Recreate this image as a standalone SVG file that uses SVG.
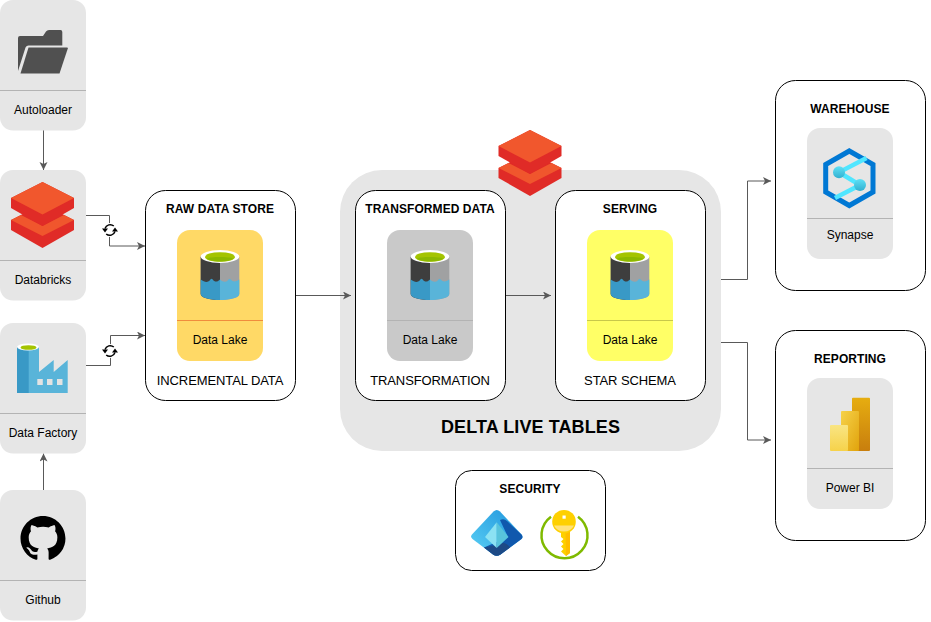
<svg xmlns="http://www.w3.org/2000/svg" xmlns:xlink="http://www.w3.org/1999/xlink" width="931" height="622" viewBox="0 0 931 622">
<style>
text{font-family:"Liberation Sans",Arial,sans-serif;fill:#000;text-anchor:middle}
.lbl{font-size:12px}
.ttl{font-size:12px;font-weight:bold;letter-spacing:.08px}
.sub{font-size:13px;letter-spacing:-.1px}
.box{fill:#fff;stroke:#000;stroke-width:1}
.card{fill:#e6e6e6}
.div{stroke:#b3b3b3;stroke-width:1;fill:none}
.c{fill:none;stroke:#595959;stroke-width:1;marker-end:url(#a)}
</style>
<defs>
<marker id="a" markerUnits="userSpaceOnUse" markerWidth="10" markerHeight="10" refX="8" refY="4" orient="auto"><path d="M0 0L8 4L0 8L2 4Z" fill="#595959"/></marker>
<linearGradient id="b1" x1="0" y1="0" x2="0" y2="1"><stop offset="0" stop-color="#e6ad10"/><stop offset="1" stop-color="#c87e0e"/></linearGradient>
<linearGradient id="b2" x1="0" y1="0" x2="1" y2="1"><stop offset="0" stop-color="#f6d24a"/><stop offset="1" stop-color="#e1a30c"/></linearGradient>
<linearGradient id="b3" x1="0" y1="0" x2="0" y2="1"><stop offset="0" stop-color="#f9e583"/><stop offset="1" stop-color="#f6d24a"/></linearGradient>
<linearGradient id="sc" x1="0" y1="0" x2="0" y2="1"><stop offset="0" stop-color="#5fe0f5"/><stop offset="1" stop-color="#32b0d0"/></linearGradient>
<linearGradient id="en" x1="0" y1="1" x2="1" y2="0"><stop offset="0" stop-color="#5ad0f5"/><stop offset="1" stop-color="#1f94dc"/></linearGradient>
<g id="dbx">
<path d="M0 38L31.500 22L63 38V48L31.500 66L0 48Z" fill="#e02b27"/>
<path d="M10 33L31.500 44L53 33L63 38L31.500 54L0 38Z" fill="#f0562d"/>
<path d="M0 16L31.500 0L63 16V26L31.500 44L0 26Z" fill="#e02b27"/>
<path d="M0 16L31.500 0L63 16L31.500 32.500Z" fill="#f1572d"/>
</g>
<g id="lake">
<path d="M0 6.500V44C0 47.500 8.500 50 19.300 50S38.600 47.500 38.600 44V6.500Z" fill="#a0a1a2"/>
<path d="M0 6.500V44C0 47.500 8.500 50 19.300 50V6.500Z" fill="#3e3e3e"/>
<path d="M0 29.500C4 32.500 7 32.500 9 30.500C10 29 11 28 12 29.500C14 32.500 17 32 19.300 29.500V50C8.500 50 0 47.500 0 44Z" fill="#3999c6"/>
<path d="M19.300 29.500C22 32 25 32.500 27 30.500C28 29 29 28 30 29.500C32 32 35 32 38.600 29.500V44C38.600 47.500 30 50 19.300 50Z" fill="#59b4d9"/>
<ellipse cx="19.300" cy="6.500" rx="19.300" ry="6.500" fill="#fff"/>
<ellipse cx="19.300" cy="7" rx="15" ry="4.800" fill="#a4c400"/>
<path d="M6 8.500C10 6.500 28 6.500 33 8.500C28 12.500 10 12.500 6 8.500Z" fill="#8cb800"/>
</g>
<g id="sync">
<circle r="7" fill="#fff"/>
<path d="M3.800 -4A5.500 5.500 0 0 0 -5 -1.500M-3.800 4A5.500 5.500 0 0 0 5 1.500" fill="none" stroke="#000" stroke-width="1.500"/>
<path d="M-8 -1.500H-2L-5 2.500ZM8 1.500H2L5 -2.500Z" fill="#000"/>
</g>
</defs>
<rect x="0" y="0" width="931" height="622" fill="#fff"/>
<g id="delta-live-tables">
<rect x="340" y="170" width="381" height="281" rx="42" fill="#e6e6e6"/>
<text x="530.500" y="433" style="font-size:18px;font-weight:bold;letter-spacing:.1px">DELTA LIVE TABLES</text>
</g>
<g id="delta-icon"><use xlink:href="#dbx" href="#dbx" x="498.500" y="130"/></g>
<g id="connectors">
<path class="c" d="M43.500 130V170"/>
<path class="c" d="M43.500 490V453.500"/>
<path class="c" d="M86 215.500H109.500V246H145"/>
<path class="c" d="M86 365.500H110.500V335.500H145"/>
<path class="c" d="M295 295.500H351"/>
<path class="c" d="M505 295.500H551"/>
<path class="c" d="M721 279.500H747.500V181H771"/>
<path class="c" d="M721 342.500H747.500V440H771"/>
</g>
<g id="sync-1"><use xlink:href="#sync" href="#sync" x="110" y="230"/></g>
<g id="sync-2"><use xlink:href="#sync" href="#sync" x="110" y="351"/></g>
<g id="autoloader">
<rect class="card" x="0" y="0" width="86" height="130.500" rx="13"/>
<path class="div" d="M0 90.500H86"/>
<path d="M18 71V38Q18 36 20 36H43L46 31.500Q47 30 49 30H60.500Q62.300 30 62.300 32V45.500H28.500Q26.500 45.500 25.500 47.500Z" fill="#505050"/>
<path d="M28.500 47.500H67Q68 47.500 67.800 48.500L59.500 73.500H20.500Z" fill="#505050"/>
<text class="lbl" x="43" y="114">Autoloader</text>
</g>
<g id="databricks">
<rect class="card" x="0" y="170" width="86" height="130.500" rx="13"/>
<path class="div" d="M0 260.500H86"/>
<use xlink:href="#dbx" href="#dbx" x="11" y="182"/>
<text class="lbl" x="43" y="284">Databricks</text>
</g>
<g id="data-factory">
<rect class="card" x="0" y="323" width="86" height="130.500" rx="13"/>
<path class="div" d="M0 413.500H86"/>
<path d="M17 347H39V393H17Z" fill="#3999c6"/>
<path d="M28.700 347H39V372L53.700 360V372L67.700 360V393H28.700Z" fill="#59b4d9"/>
<ellipse cx="28" cy="347" rx="11" ry="3.500" fill="#fff"/>
<ellipse cx="28.500" cy="347.500" rx="8" ry="2.300" fill="#a4c400"/>
<g fill="#e3e3e3"><rect x="37.300" y="379" width="5.500" height="6"/><rect x="47" y="379" width="5.500" height="6"/><rect x="57" y="379" width="5.500" height="6"/></g>
<text class="lbl" x="43" y="437">Data Factory</text>
</g>
<g id="github">
<rect class="card" x="0" y="490" width="86" height="130.500" rx="13"/>
<path class="div" d="M0 580.500H86"/>
<path transform="translate(20.500 516) scale(2.810)" d="M8 0C3.580 0 0 3.580 0 8c0 3.540 2.290 6.530 5.470 7.590.4.070.55-.17.55-.38 0-.19-.01-.82-.01-1.490-2.010.37-2.530-.49-2.690-.94-.09-.23-.48-.94-.82-1.130-.28-.15-.68-.52-.01-.53.63-.01 1.080.58 1.230.82.720 1.210 1.870.87 2.330.66.070-.52.28-.87.51-1.070-1.780-.2-3.640-.89-3.640-3.950 0-.87.31-1.590.82-2.150-.08-.2-.36-1.020.08-2.120 0 0 .67-.21 2.200.82.64-.18 1.320-.27 2-.27.68 0 1.360.09 2 .27 1.530-1.040 2.200-.82 2.200-.82.44 1.100.16 1.920.08 2.120.51.56.82 1.270.82 2.150 0 3.070-1.870 3.750-3.650 3.950.29.25.54.73.54 1.480 0 1.070-.01 1.930-.01 2.200 0 .21.15.46.55.38A8.013 8.013 0 0016 8c0-4.420-3.580-8-8-8z" fill="#000"/>
<text class="lbl" x="43" y="604">Github</text>
</g>
<g id="raw-data-store">
<rect class="box" x="145.500" y="190.500" width="150" height="210" rx="20"/>
<text class="ttl" x="220" y="213">RAW DATA STORE</text>
<rect x="177" y="230" width="86" height="131" rx="13" fill="#ffd966"/>
<path d="M177 320.500H263" stroke="#f08c3c" fill="none"/>
<use xlink:href="#lake" href="#lake" x="200.700" y="250"/>
<text class="lbl" x="220" y="344">Data Lake</text>
<text class="sub" x="220" y="385">INCREMENTAL DATA</text>
</g>
<g id="transformed-data">
<rect class="box" x="355.500" y="190.500" width="150" height="210" rx="20"/>
<text class="ttl" x="430" y="213">TRANSFORMED DATA</text>
<rect x="387" y="230" width="86" height="131" rx="13" fill="#c9c9c9"/>
<path class="div" d="M387 320.500H473" stroke="#a6a6a6"/>
<use xlink:href="#lake" href="#lake" x="410.700" y="250"/>
<text class="lbl" x="430" y="344">Data Lake</text>
<text class="sub" x="430" y="385">TRANSFORMATION</text>
</g>
<g id="serving">
<rect class="box" x="555.500" y="190.500" width="150" height="210" rx="20"/>
<text class="ttl" x="630" y="213">SERVING</text>
<rect x="587" y="230" width="86" height="131" rx="13" fill="#ffff66"/>
<path d="M587 320.500H673" stroke="#c8c84a" fill="none"/>
<use xlink:href="#lake" href="#lake" x="610.700" y="250"/>
<text class="lbl" x="630" y="344">Data Lake</text>
<text class="sub" x="630" y="385">STAR SCHEMA</text>
</g>
<g id="warehouse">
<rect class="box" x="775.500" y="80.500" width="150" height="210" rx="20"/>
<text class="ttl" x="850" y="113">WAREHOUSE</text>
<rect class="card" x="807" y="128" width="86" height="131" rx="13"/>
<path class="div" d="M807 218.500H893"/>
<path d="M849.300 151L873 164.500V192L849.300 205.500L825.700 192V164.500Z" fill="none" stroke="#0078d4" stroke-width="5"/>
<path d="M866.500 158L839 172.300L860 185L835 198" fill="none" stroke="#50e6ff" stroke-width="4.500"/>
<circle cx="839" cy="172.300" r="6" fill="url(#sc)"/>
<circle cx="860" cy="185" r="6" fill="url(#sc)"/>
<text class="lbl" x="850" y="239">Synapse</text>
</g>
<g id="reporting">
<rect class="box" x="775.500" y="330.500" width="150" height="210" rx="20"/>
<text class="ttl" x="850" y="363">REPORTING</text>
<rect class="card" x="807" y="378" width="86" height="131" rx="13"/>
<path class="div" d="M807 468.500H893"/>
<rect x="852" y="397.700" width="18" height="53.300" rx="1" fill="url(#b1)"/>
<rect x="841" y="411" width="18" height="40" rx="1" fill="url(#b2)"/>
<rect x="830" y="425" width="18" height="26" rx="1" fill="url(#b3)"/>
<text class="lbl" x="850" y="492">Power BI</text>
</g>
<g id="security">
<rect class="box" x="455.500" y="470.500" width="150" height="100" rx="16"/>
<text class="ttl" x="530" y="493">SECURITY</text>
<path d="M493.500 511.500Q496.700 508.500 500 511.500L521.500 534.500Q523.500 537 521.500 539L500.500 554.500Q496.700 557 493 554.500L472.500 539Q470 537 472 534.500Z" fill="url(#en)"/>
<path d="M500 520Q504 518 507 521L521.500 534.500Q523.500 537 521.500 539L500.500 554.500Q496.700 557 493 554.500L484 547.500L508 537Z" fill="#1058ad"/>
<path d="M484 547.500L493 554.500Q496.700 557 500.500 554.500L510 547.500Q505 540 497 545Z" fill="#1d4a86"/>
<path d="M496.700 522.300V548L485 537Z" fill="#8be2f3"/>
<path d="M496.700 522.300V548L508.500 537Z" fill="#58c4dc"/>
<path d="M551 516.700A23 23 0 1 0 578 516.700" fill="none" stroke="#7fba00" stroke-width="2.500"/>
<path d="M561 530H570V553L566 556L561 551.500L563.500 549L561 546.500L563.500 544L561 541.500L563.500 539L561 537Z" fill="#fed000"/>
<path d="M565.500 530H570V553L566 556Z" fill="#ffbd00"/>
<circle cx="564" cy="521.700" r="11.800" fill="#fed000"/>
<path d="M554 525.500H574Q571 531.500 564 531.500Q557 531.500 554 525.500Z" fill="#ffe27a"/>
<rect x="562.500" y="515.500" width="3.200" height="3.200" fill="#fff"/>
</g>
</svg>
